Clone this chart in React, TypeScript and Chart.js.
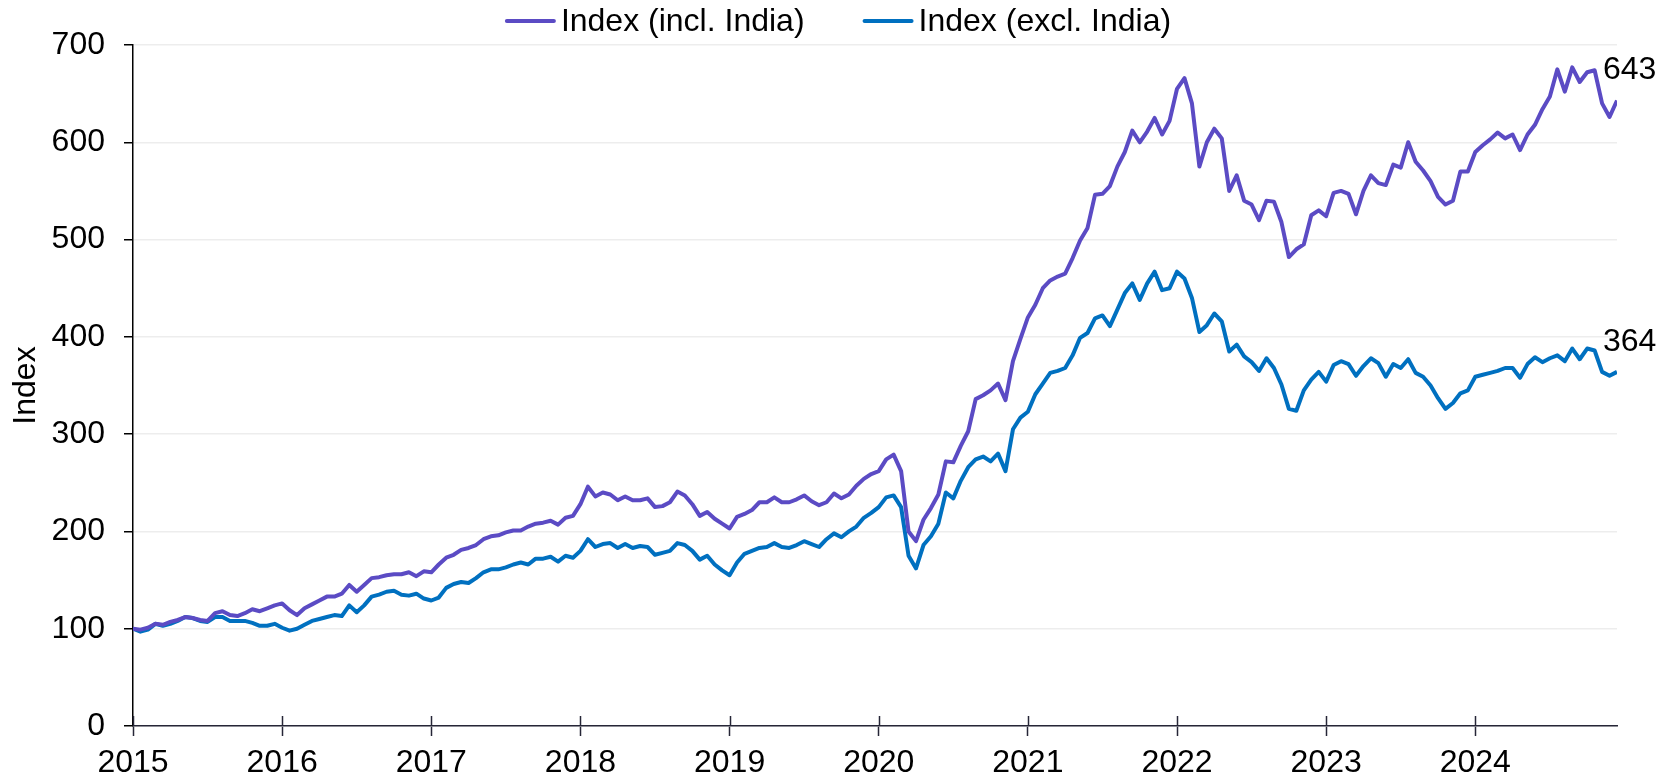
import React, { useEffect, useRef } from 'react';
import { Chart, registerables } from 'chart.js';

Chart.register(...registerables);

// Time axis: samples every 0.05 year starting 2015.00
const START_YEAR = 2015;
const STEP = 0.05;
const X_MAX = 2024.95;

const yearTicks = [2015, 2016, 2017, 2018, 2019, 2020, 2021, 2022, 2023, 2024];
const yTicks = [0, 100, 200, 300, 400, 500, 600, 700];

const seriesNames = ['Index (incl. India)', 'Index (excl. India)'];
const seriesColors = ['#5b4bc4', '#0070c0'];
const endLabels = ['643', '364'];

const inclIndia = [
  // 2015
  100, 99, 101, 105, 104, 107, 109, 112, 111, 109, 108, 116, 118, 114, 113, 116, 120, 118, 121, 124,
  // 2016
  126, 119, 114, 121, 125, 129, 133, 133, 136, 145, 138, 145, 152, 153, 155, 156, 156, 158, 154, 159,
  // 2017
  158, 166, 173, 176, 181, 183, 186, 192, 195, 196, 199, 201, 201, 205, 208, 209, 211, 207, 214, 216,
  // 2018
  228, 246, 236, 240, 238, 232, 236, 232, 232, 234, 225, 226, 230, 241, 237, 228, 216, 220, 213, 208,
  // 2019
  203, 215, 218, 222, 230, 230, 235, 230, 230, 233, 237, 231, 227, 230, 239, 234, 238, 247, 254, 259,
  // 2020
  262, 274, 279, 262, 200, 190, 212, 224, 238, 272, 271, 288, 303, 336, 340, 345, 352, 335, 375, 398,
  // 2021
  420, 433, 450, 458, 462, 465, 481, 499, 512, 546, 547, 555, 575, 590, 612, 600, 611, 625, 608, 622,
  // 2022
  655, 666, 640, 575, 600, 614, 604, 550, 566, 540, 536, 520, 540, 539, 518, 482, 490, 495, 525, 530,
  // 2023
  524, 548, 550, 547, 526, 550, 566, 558, 556, 577, 574, 600, 580, 571, 560, 544, 536, 540, 570, 570,
  // 2024
  590, 597, 603, 610, 604, 608, 592, 608, 618, 634, 647, 675, 652, 677, 662, 672, 674, 640, 626, 643,
];

const exclIndia = [
  // 2015
  100, 97, 99, 105, 103, 105, 108, 112, 111, 108, 107, 112, 112, 108, 108, 108, 106, 103, 103, 105,
  // 2016
  101, 98, 100, 104, 108, 110, 112, 114, 113, 124, 117, 124, 133, 135, 138, 139, 135, 134, 136, 131,
  // 2017
  129, 132, 142, 146, 148, 147, 152, 158, 161, 161, 163, 166, 168, 166, 172, 172, 174, 169, 175, 173,
  // 2018
  180, 192, 184, 187, 188, 183, 187, 183, 185, 184, 176, 178, 180, 188, 186, 180, 171, 175, 166, 160,
  // 2019
  155, 168, 177, 180, 183, 184, 188, 184, 183, 186, 190, 187, 184, 192, 198, 194, 200, 205, 214, 219,
  // 2020
  225, 235, 237, 225, 175, 162, 186, 195, 208, 240, 234, 252, 266, 274, 277, 272, 280, 262, 305, 317,
  // 2021
  323, 341, 352, 363, 365, 368, 381, 399, 404, 419, 422, 411, 428, 445, 455, 438, 455, 467, 448, 450,
  // 2022
  467, 460, 440, 405, 412, 424, 416, 385, 392, 380, 374, 365, 378, 368, 351, 326, 324, 345, 356, 364,
  // 2023
  354, 371, 375, 372, 360, 370, 378, 373, 359, 372, 368, 377, 363, 359, 350, 337, 326, 332, 342, 345,
  // 2024
  359, 361, 363, 365, 368, 368, 358, 372, 379, 374, 378, 381, 375, 388, 377, 388, 386, 364, 360, 364,
];

const FONT_FAMILY = '"Liberation Sans", Arial, Helvetica, sans-serif';
const FONT_SIZE = 32;
const AXIS_DARK = '#262637';

const toPoints = (vals: number[]) =>
  vals.map((v, i) => ({ x: +(START_YEAR + i * STEP).toFixed(2), y: v }));

const overlayPlugin = {
  id: 'overlay',
  afterDraw(chart: any) {
    const { ctx, chartArea, scales } = chart;
    const xs = scales.x;
    ctx.save();
    // inner half of x tick marks (crossing the axis)
    ctx.strokeStyle = AXIS_DARK;
    ctx.lineWidth = 1.5;
    yearTicks.forEach((v) => {
      const px = Math.round(xs.getPixelForValue(v)) + 0.5;
      ctx.beginPath();
      ctx.moveTo(px, chartArea.bottom);
      ctx.lineTo(px, chartArea.bottom - 10);
      ctx.stroke();
    });

    // end-of-line labels
    ctx.font = `${FONT_SIZE}px ${FONT_FAMILY}`;
    ctx.fillStyle = '#000';
    ctx.textAlign = 'left';
    ctx.textBaseline = 'middle';
    chart.data.datasets.forEach((_ds: any, i: number) => {
      const meta = chart.getDatasetMeta(i);
      const last = meta.data[meta.data.length - 1];
      if (last) ctx.fillText(endLabels[i], last.x - 14, last.y - 30);
    });

    // legend
    const lineLen = 51;
    const gapText = 5;
    const gapItems = 58;
    const widths = seriesNames.map((t) => ctx.measureText(t).width);
    const total = widths.reduce((a, w) => a + lineLen + gapText + w, 0) + gapItems * (seriesNames.length - 1);
    let x = 838 - total / 2;
    const ly = 21;
    ctx.textBaseline = 'alphabetic';
    seriesNames.forEach((name, i) => {
      ctx.strokeStyle = seriesColors[i];
      ctx.lineWidth = 4;
      ctx.lineCap = 'round';
      ctx.beginPath();
      ctx.moveTo(x + 2, ly);
      ctx.lineTo(x + lineLen - 2, ly);
      ctx.stroke();
      ctx.fillStyle = '#000';
      ctx.fillText(name, x + lineLen + gapText, 31);
      x += lineLen + gapText + widths[i] + gapItems;
    });
    ctx.restore();
  },
};

export default function App() {
  const canvasRef = useRef<HTMLCanvasElement | null>(null);

  useEffect(() => {
    if (!canvasRef.current) return;
    const font = { family: FONT_FAMILY, size: FONT_SIZE };
    const chart = new Chart(canvasRef.current, {
      type: 'line',
      data: {
        datasets: [
          {
            label: seriesNames[0],
            data: toPoints(inclIndia),
            borderColor: seriesColors[0],
            backgroundColor: seriesColors[0],
            borderWidth: 4,
            pointRadius: 0,
            tension: 0,
            borderJoinStyle: 'round',
          },
          {
            label: seriesNames[1],
            data: toPoints(exclIndia),
            borderColor: seriesColors[1],
            backgroundColor: seriesColors[1],
            borderWidth: 4,
            pointRadius: 0,
            tension: 0,
            borderJoinStyle: 'round',
          },
        ],
      },
      options: {
        responsive: false,
        animation: false,
        events: [],
        layout: { padding: { top: 45, right: 43, left: 0, bottom: 0 } },
        plugins: {
          legend: { display: false },
          tooltip: { enabled: false },
        },
        scales: {
          x: {
            type: 'linear',
            min: START_YEAR,
            max: X_MAX,
            afterBuildTicks: (s: any) => {
              s.ticks = yearTicks.map((v) => ({ value: v }));
            },
            afterFit: (s: any) => {
              s.height = 52;
            },
            ticks: {
              font,
              color: '#000',
              padding: 8,
              autoSkip: false,
              maxRotation: 0,
              callback: (v: any) => String(v),
            },
            grid: {
              display: true,
              drawOnChartArea: false,
              drawTicks: true,
              tickLength: 10,
              tickColor: AXIS_DARK,
              tickWidth: 1.5,
              color: AXIS_DARK,
            },
            border: { color: AXIS_DARK, width: 1.5 },
          },
          y: {
            type: 'linear',
            min: 0,
            max: 700,
            afterBuildTicks: (s: any) => {
              s.ticks = yTicks.map((v) => ({ value: v }));
            },
            afterFit: (s: any) => {
              s.width = 133;
            },
            ticks: {
              font,
              color: '#000',
              padding: 19,
              callback: (v: any) => String(v),
            },
            grid: {
              color: '#ededed',
              lineWidth: 1.5,
              tickColor: '#000',
              tickLength: 9,
              tickWidth: 1.5,
            },
            border: { color: '#000', width: 1.5 },
            title: {
              display: true,
              text: 'Index',
              font,
              color: '#000',
              padding: { top: 7, bottom: 0 },
            },
          },
        },
      },
      plugins: [overlayPlugin],
    } as any);
    return () => chart.destroy();
  }, []);

  return (
    <div style={{ position: 'fixed', left: 0, top: 0, width: 1660, height: 778, background: '#fff' }}>
      <canvas ref={canvasRef} width={1660} height={778} style={{ display: 'block' }} />
    </div>
  );
}
